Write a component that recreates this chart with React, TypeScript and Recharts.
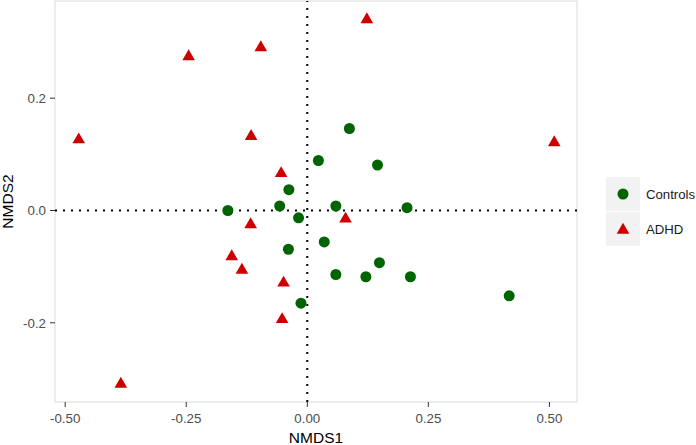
import React from 'react';
import {
  ScatterChart,
  Scatter,
  XAxis,
  YAxis,
  ReferenceLine,
  ReferenceArea,
} from 'recharts';

// NMDS scores
const controlsX = [-0.164, -0.038, -0.057, -0.018, -0.039, 0.035, -0.013, 0.023, 0.087, 0.059, 0.145, 0.206, 0.059, 0.149, 0.121, 0.213, 0.417];
const controlsY = [0.0, 0.037, 0.008, -0.013, -0.069, -0.056, -0.165, 0.089, 0.146, 0.008, 0.081, 0.005, -0.114, -0.093, -0.118, -0.118, -0.152];

const adhdX = [-0.472, -0.245, -0.096, 0.123, 0.510, -0.116, -0.054, -0.117, 0.079, -0.156, -0.135, -0.049, -0.052, -0.385];
const adhdY = [0.126, 0.274, 0.290, 0.340, 0.121, 0.132, 0.066, -0.025, -0.015, -0.082, -0.106, -0.129, -0.194, -0.309];

const xTicks = [-0.5, -0.25, 0, 0.25, 0.5];
const yTicks = [-0.2, 0, 0.2];
const xDomain: [number, number] = [-0.521, 0.557];
const yDomain: [number, number] = [-0.341, 0.373];

const groupNames = ['Controls', 'ADHD'];
const GREEN = '#006400';
const RED = '#cd0000';
const FONT = '"Liberation Sans", Arial, Helvetica, sans-serif';

const controlsData = controlsX.map((x, i) => ({ x, y: controlsY[i] }));
const adhdData = adhdX.map((x, i) => ({ x, y: adhdY[i] }));

const CircleDot = (p: any) => <circle cx={p.cx} cy={p.cy} r={5.5} fill={GREEN} />;

const TriangleDot = (p: any) => {
  const s = 12.6;
  const h = (s * Math.sqrt(3)) / 2;
  const pts = `${p.cx},${p.cy - (2 * h) / 3} ${p.cx - s / 2},${p.cy + h / 3} ${p.cx + s / 2},${p.cy + h / 3}`;
  return <polygon points={pts} fill={RED} />;
};

const tickStyle = { fontSize: 13.3, fill: '#4d4d4d', fontFamily: FONT };

const LegendKey = ({ name }: { name: string }) => (
  <div style={{ display: 'flex', alignItems: 'center', height: 35 }}>
    <div
      style={{
        width: 34,
        height: 34,
        background: '#f2f2f2',
        display: 'flex',
        alignItems: 'center',
        justifyContent: 'center',
        marginBottom: 1,
      }}
    >
      <svg width={14} height={14}>
        {name === 'Controls' ? (
          <circle cx={7} cy={7} r={5.5} fill={GREEN} />
        ) : (
          <polygon points="7,0.8 0.7,11.7 13.3,11.7" fill={RED} />
        )}
      </svg>
    </div>
    <span style={{ marginLeft: 6, fontSize: 13.2, color: '#1a1a1a', fontFamily: FONT }}>{name}</span>
  </div>
);

export default function App() {
  return (
    <div style={{ position: 'absolute', left: 0, top: 0, width: 696, height: 445, background: '#fff' }}>
      <ScatterChart width={696} height={445} margin={{ top: 1, right: 119, bottom: 0, left: 0 }}>
        <ReferenceArea
          x1={xDomain[0]}
          x2={xDomain[1]}
          y1={yDomain[0]}
          y2={yDomain[1]}
          fill="none"
          stroke="#d9d9d9"
          strokeWidth={1}
        />
        <XAxis
          type="number"
          dataKey="x"
          domain={xDomain}
          ticks={xTicks}
          allowDataOverflow
          axisLine={false}
          tickLine={{ stroke: '#333333' }}
          tickSize={5}
          tickMargin={7}
          height={43}
          tick={tickStyle}
          tickFormatter={(v: number) => v.toFixed(2)}
          label={{ value: 'NMDS1', position: 'insideBottom', offset: 2, style: { fontSize: 15.5, fill: '#000', fontFamily: FONT } }}
        />
        <YAxis
          type="number"
          dataKey="y"
          domain={yDomain}
          ticks={yTicks}
          allowDataOverflow
          axisLine={false}
          tickLine={{ stroke: '#333333' }}
          tickSize={5}
          tickMargin={4}
          width={55}
          tick={tickStyle}
          tickFormatter={(v: number) => v.toFixed(1)}
          label={{
            content: ({ viewBox }: any) => {
              const cx = viewBox.x + 13;
              const cy = viewBox.y + viewBox.height / 2;
              return (
                <text
                  x={cx}
                  y={cy}
                  transform={`rotate(-90 ${cx} ${cy})`}
                  textAnchor="middle"
                  fontSize={15.5}
                  fill="#000"
                  fontFamily={FONT}
                >
                  NMDS2
                </text>
              );
            },
          }}
        />
        <ReferenceLine x={0} stroke="#000" strokeWidth={2} strokeDasharray="2 6" />
        <ReferenceLine y={0} stroke="#000" strokeWidth={2} strokeDasharray="2 6" />
        <Scatter name={groupNames[0]} data={controlsData} shape={CircleDot} isAnimationActive={false} />
        <Scatter name={groupNames[1]} data={adhdData} shape={TriangleDot} isAnimationActive={false} />
      </ScatterChart>
      <div style={{ position: 'absolute', left: 606, top: 177 }}>
        {groupNames.map((n) => (
          <LegendKey key={n} name={n} />
        ))}
      </div>
    </div>
  );
}
